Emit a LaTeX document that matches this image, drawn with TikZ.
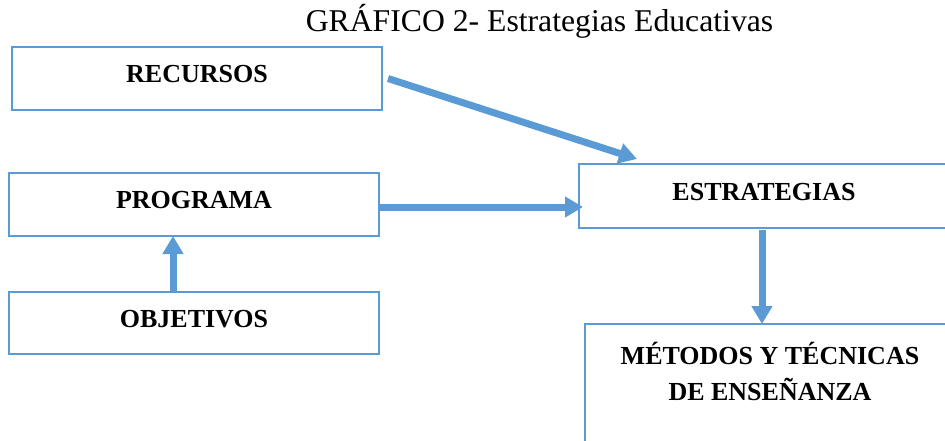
\documentclass[tikz,border=0pt]{standalone}
\usepackage{fontspec}
\setmainfont{Liberation Serif}
\usetikzlibrary{arrows.meta, positioning}
\definecolor{azul}{RGB}{91,155,213}
\tikzset{
    caja/.style = {draw = azul, line width = 2pt, rectangle, anchor = north west,
        outer sep = 0pt, inner sep = 0pt, minimum width = 370pt, minimum height = 63pt,
        font = \fontsize{26}{36}\selectfont\bfseries, text height = 18pt, text depth = 10pt},
    flecha/.style = {draw = azul, line width = 7pt, -{Triangle[length = 18pt, width = 20pt]}}
}
\begin{document}
\begin{tikzpicture}[x = 1pt, y = -1pt]
                \useasboundingbox (0, 0) rectangle (945, 441);
                \clip (0, 0) rectangle (945, 441);
                % Title
                \node [font = \fontsize{31.7}{36}\selectfont, anchor = base] (titulo) at (539.5, 32)
                    {GRÁFICO 2- Estrategias Educativas};
                % Left column
                \node [caja] (recursos) at (12, 47) {RECURSOS};
                \node [caja] (programa) at (9, 173) {PROGRAMA};
                \node [caja, minimum height = 62pt] (objetivos) at (9, 292) {OBJETIVOS};
                % Right column
                \node [caja, minimum height = 64pt] (estrategias) at (579, 164) {ESTRATEGIAS};
                \node [caja, minimum height = 160pt] (metodos) at (585, 324) {};
                \node [font = \fontsize{26}{36}\selectfont\bfseries, align = center, anchor = base]
                    (metodostexto) at ([yshift = -76pt]metodos.north)
                    {MÉTODOS Y TÉCNICAS\\DE ENSEÑANZA};
                % Arrows
                \draw [flecha] ([shift = {(6, 0)}]recursos.east) -- ([shift = {(58, -5)}]estrategias.north west);
                \draw [flecha] ([yshift = -2.5pt]programa.east) -- ([yshift = -2.5pt, xshift = 4pt]programa.east -| estrategias.west);
                \draw [flecha] ([xshift = -21pt]objetivos.north) -- ([xshift = -21pt]programa.south);
                \draw [flecha] ([shift = {(-2, 2)}]estrategias.south) -- ([xshift = -8pt]metodos.north);
\end{tikzpicture}
\end{document}
